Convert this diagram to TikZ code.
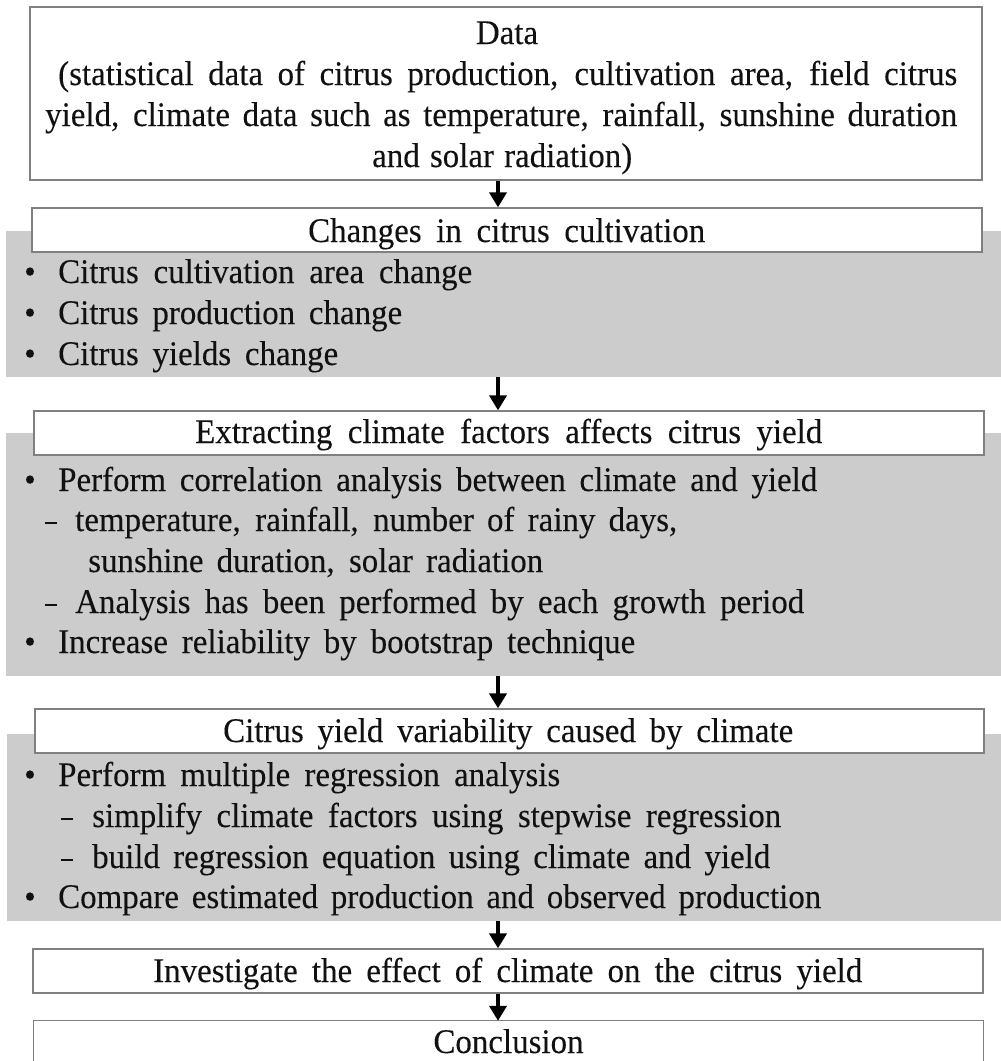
\documentclass[tikz,border=0pt]{standalone}
\usepackage{fontspec}
\setmainfont[FakeStretch=0.955,FakeBold=0.15]{Liberation Serif}
\usetikzlibrary{arrows.meta}
\definecolor{boxline}{RGB}{128,128,128}
\definecolor{panel}{RGB}{204,204,204}
\definecolor{ink}{RGB}{17,17,17}
\newcommand\fitl[2]{\makebox[#1bp][s]{#2}}
\newcommand\dsh{\scalebox{0.7}[1]{–}}
\tikzset{
  wbox/.style={draw=boxline, line width=1.3bp, fill=white, inner sep=0pt},
  gbox/.style={fill=panel, draw=none, inner sep=0pt},
  txt/.style={inner sep=0pt, anchor=base west, text=ink, font=\fontsize{34.5bp}{40bp}\selectfont},
  ctxt/.style={txt, anchor=base},
  arr/.style={line width=4bp, -{Triangle[width=17bp,length=15bp]}, draw=black}
}
\begin{document}
\begin{tikzpicture}[x=1bp,y=-1bp]
\useasboundingbox (0,0) rectangle (1001,1061);
\fill[white] (0,0) rectangle (1001,1061);
% grey panels
\node[gbox, minimum width=995bp, minimum height=146bp] (g1) at (503.5,304) {};
\node[gbox, minimum width=995bp, minimum height=243bp] (g2) at (503.5,554.5) {};
\node[gbox, minimum width=994bp, minimum height=187bp] (g3) at (504,827.5) {};
% white boxes
\node[wbox, minimum width=952bp, minimum height=173bp] (b1) at (506,93.5) {};
\node[wbox, minimum width=950bp, minimum height=44bp] (b2) at (507,230) {};
\node[wbox, minimum width=950bp, minimum height=44bp] (b3) at (509,433) {};
\node[wbox, minimum width=949bp, minimum height=44bp] (b4) at (509.5,731) {};
\node[wbox, minimum width=950bp, minimum height=44bp] (b5) at (508,971) {};
\node[fill=white, draw=none, inner sep=0pt, minimum width=949bp, minimum height=41bp] (b6) at (508.5,1041.5) {};
\draw[draw=boxline, line width=1.3bp] (b6.south west) |- (b6.north east) -- (b6.south east);
% box 1 text
\node[ctxt] (t1) at (507,44) {Data};
\node[txt] (t2) at (58,85) {\fitl{899}{(statistical data of citrus production, cultivation area, field citrus}};
\node[txt] (t3) at (45,126) {\fitl{912}{yield, climate data such as temperature, rainfall, sunshine duration}};
\node[txt] (t4) at (372,167) {\fitl{260}{and solar radiation)}};
% box 2
\node[txt] (h2) at (308,242) {\fitl{397}{Changes in citrus cultivation}};
\node[ctxt] (p1a) at (30,283) {•};
\node[txt] (l1a) at (58,283) {\fitl{414}{Citrus cultivation area change}};
\node[ctxt] (p1b) at (30,324) {•};
\node[txt] (l1b) at (58,324) {\fitl{344}{Citrus production change}};
\node[ctxt] (p1c) at (30,365) {•};
\node[txt] (l1c) at (58,365) {\fitl{280}{Citrus yields change}};
% box 3
\node[txt] (h3) at (195,443) {\fitl{627}{Extracting climate factors affects citrus yield}};
\node[ctxt] (p2a) at (30,491) {•};
\node[txt] (l2a) at (58,491) {\fitl{759}{Perform correlation analysis between climate and yield}};
\node[txt] (d2b) at (45,531) {\dsh};
\node[txt] (l2b) at (75,531) {\fitl{602}{temperature, rainfall, number of rainy days,}};
\node[txt] (l2c) at (88,572) {\fitl{455}{sunshine duration, solar radiation}};
\node[txt] (d2d) at (45,613) {\dsh};
\node[txt] (l2d) at (75,613) {\fitl{729}{Analysis has been performed by each growth period}};
\node[ctxt] (p2e) at (30,653) {•};
\node[txt] (l2e) at (58,653) {\fitl{577}{Increase reliability by bootstrap technique}};
% box 4
\node[txt] (h4) at (223,742) {\fitl{570}{Citrus yield variability caused by climate}};
\node[ctxt] (p3a) at (30,786) {•};
\node[txt] (l3a) at (58,786) {\fitl{502}{Perform multiple regression analysis}};
\node[txt] (d3b) at (61,827) {\dsh};
\node[txt] (l3b) at (92,827) {\fitl{689}{simplify climate factors using stepwise regression}};
\node[txt] (d3c) at (61,868) {\dsh};
\node[txt] (l3c) at (92,868) {\fitl{678}{build regression equation using climate and yield}};
\node[ctxt] (p3d) at (30,908) {•};
\node[txt] (l3d) at (58,908) {\fitl{763}{Compare estimated production and observed production}};
% box 5, 6
\node[txt] (h5) at (153,982) {\fitl{709}{Investigate the effect of climate on the citrus yield}};
\node[ctxt] (h6) at (508.5,1053) {Conclusion};
% arrows
\coordinate (ax) at (498,0);
\draw[arr] (b1.south -| ax) -- (b2.north -| ax);
\draw[arr] (g1.south -| ax) -- (b3.north -| ax);
\draw[arr] (g2.south -| ax) -- (b4.north -| ax);
\draw[arr] (g3.south -| ax) -- (b5.north -| ax);
\draw[arr] (b5.south -| ax) -- (b6.north -| ax);
\end{tikzpicture}
\end{document}
